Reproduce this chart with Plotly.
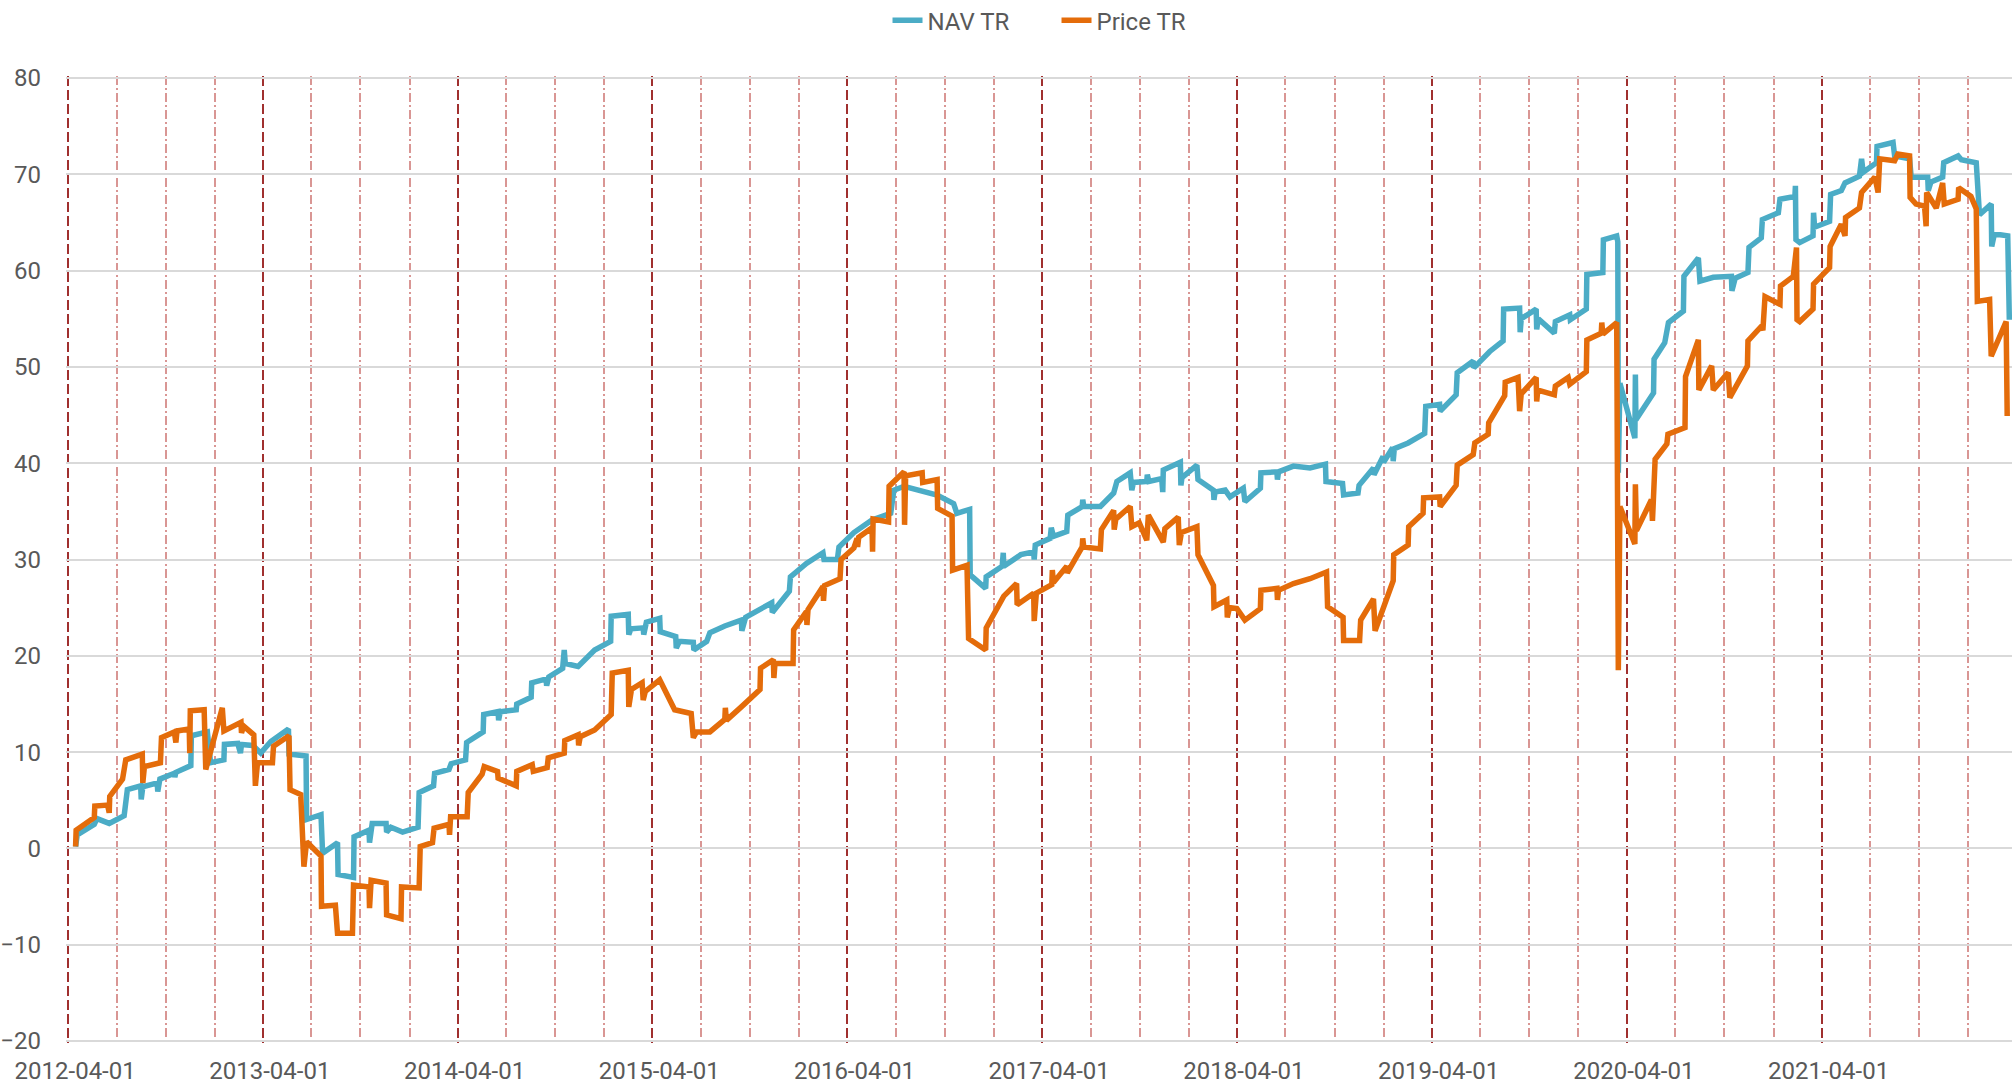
import plotly.graph_objects as go

# ---------------- data ----------------
nav_dates = (
    ["2012-04-15", "2012-04-18", "2012-05-20", "2012-05-25", "2012-06-17", "2012-06-29", "2012-07-15",
     "2012-07-21", "2012-08-15", "2012-08-16", "2012-08-19", "2012-09-15", "2012-09-16", "2012-09-20",
     "2012-10-17", "2012-10-18", "2012-10-20", "2012-11-17", "2012-11-18", "2012-12-18", "2012-12-24"]
    + ["2013-01-18", "2013-01-19", "2013-02-13", "2013-02-18", "2013-02-20", "2013-03-13", "2013-03-28",
       "2013-04-16", "2013-05-19", "2013-05-20", "2013-06-21", "2013-06-22", "2013-07-19", "2013-07-22",
       "2013-08-19", "2013-08-20", "2013-09-18", "2013-09-19", "2013-10-17", "2013-10-18", "2013-10-23",
       "2013-11-18", "2013-11-19", "2013-11-27", "2013-12-19"]
    + ["2014-01-17", "2014-01-19", "2014-02-15", "2014-02-17", "2014-03-16", "2014-03-20", "2014-04-16",
       "2014-04-18", "2014-05-19", "2014-05-20", "2014-06-16", "2014-06-17", "2014-06-20", "2014-07-20",
       "2014-07-21", "2014-08-17", "2014-08-18", "2014-09-14", "2014-09-15", "2014-09-19", "2014-10-15",
       "2014-10-18", "2014-10-20", "2014-11-13", "2014-12-14"]
    + ["2015-01-13", "2015-01-14", "2015-02-15", "2015-02-16", "2015-02-20", "2015-03-15", "2015-03-16",
       "2015-03-21", "2015-04-15", "2015-04-16", "2015-05-15", "2015-05-16", "2015-05-22", "2015-06-17",
       "2015-06-18", "2015-07-12", "2015-07-18", "2015-08-15", "2015-09-15", "2015-09-16", "2015-09-23",
       "2015-10-20", "2015-11-11", "2015-11-12", "2015-12-14", "2015-12-16"]
    + ["2016-01-15", "2016-02-15", "2016-02-17", "2016-03-13", "2016-03-16", "2016-04-13", "2016-05-17",
       "2016-06-21", "2016-06-27", "2016-07-16", "2016-08-18", "2016-09-16", "2016-10-17", "2016-10-23",
       "2016-11-16", "2016-11-17", "2016-12-16", "2016-12-17"]
    + ["2017-01-16", "2017-01-18", "2017-01-19", "2017-02-20", "2017-03-16", "2017-03-17", "2017-03-19",
       "2017-04-16", "2017-04-18", "2017-04-22", "2017-05-17", "2017-05-19", "2017-06-15", "2017-06-16",
       "2017-06-18", "2017-07-19", "2017-08-13", "2017-08-19", "2017-09-13", "2017-09-16", "2017-09-19",
       "2017-10-14", "2017-10-15", "2017-10-18", "2017-11-11", "2017-11-13", "2017-11-14", "2017-12-16",
       "2017-12-17", "2017-12-19"]
    + ["2018-01-16", "2018-01-18", "2018-02-16", "2018-02-17", "2018-02-19", "2018-03-10", "2018-03-19",
       "2018-04-13", "2018-04-16", "2018-05-15", "2018-05-16", "2018-06-15", "2018-06-16", "2018-06-18",
       "2018-07-16", "2018-08-16", "2018-09-14", "2018-09-15", "2018-10-16", "2018-10-18", "2018-11-14",
       "2018-11-16", "2018-12-13", "2018-12-14", "2018-12-31"]
    + ["2019-01-01", "2019-01-18", "2019-01-19", "2019-01-21", "2019-02-16", "2019-03-19", "2019-03-21",
       "2019-04-16", "2019-04-17", "2019-05-17", "2019-05-19", "2019-06-18", "2019-06-19", "2019-07-19",
       "2019-08-13", "2019-08-14", "2019-09-13", "2019-09-14", "2019-09-16", "2019-10-14", "2019-10-15",
       "2019-10-18", "2019-11-17", "2019-11-19", "2019-12-16", "2019-12-17"]
    + ["2020-01-16", "2020-01-17", "2020-02-16", "2020-02-17", "2020-03-13", "2020-03-15", "2020-03-16",
       "2020-03-19", "2020-04-16", "2020-04-17", "2020-04-18", "2020-05-21", "2020-05-22", "2020-06-11",
       "2020-06-18", "2020-07-16", "2020-07-17", "2020-08-13", "2020-08-16", "2020-09-10", "2020-10-14",
       "2020-10-15", "2020-10-21", "2020-11-14", "2020-11-16", "2020-12-09", "2020-12-11"]
    + ["2021-01-10", "2021-01-13", "2021-02-10", "2021-02-11", "2021-02-12", "2021-02-19", "2021-03-16",
       "2021-03-17", "2021-03-19", "2021-04-16", "2021-04-18", "2021-05-08", "2021-05-15", "2021-06-11",
       "2021-06-15", "2021-06-18", "2021-07-13", "2021-07-14", "2021-08-13", "2021-08-16", "2021-09-13",
       "2021-09-16", "2021-10-17", "2021-10-18", "2021-10-23", "2021-11-14", "2021-11-16", "2021-12-13",
       "2021-12-19"]
    + ["2022-01-16", "2022-01-22", "2022-02-13", "2022-02-14", "2022-02-19", "2022-03-16", "2022-03-19"]
)
nav_values = (
    [0.2, 1.4, 2.5, 3.1, 2.6, 3.0, 3.4, 6.1, 6.5, 5.1, 6.4, 6.8, 5.9, 7.2, 7.8, 7.4, 7.9, 8.6, 11.7, 12.1, 8.9]
    + [9.2, 10.8, 10.9, 9.9, 10.8, 10.7, 9.9, 11.1, 12.4, 9.8, 9.6, 3.0, 3.5, -0.5, 0.6, -2.7, -3.0, 1.2,
       1.9, 0.6, 2.6, 2.6, 1.7, 2.2, 1.7]
    + [2.2, 5.8, 6.5, 7.8, 8.2, 8.8, 9.2, 11.0, 12.1, 13.9, 14.2, 13.3, 14.2, 14.4, 15.0, 15.7, 17.2, 17.6,
       16.9, 17.8, 18.7, 20.6, 19.2, 18.9, 20.6]
    + [21.5, 24.1, 24.3, 22.2, 22.8, 22.9, 22.2, 23.5, 23.9, 22.5, 22.0, 20.8, 21.5, 21.4, 20.6, 21.5, 22.4,
       23.1, 23.7, 22.6, 24.0, 24.8, 25.5, 24.5, 26.7, 28.2]
    + [29.6, 30.7, 30.0, 30.0, 31.3, 32.8, 34.1, 34.8, 37.2, 37.6, 37.1, 36.7, 35.8, 34.8, 35.2, 28.4, 27.0, 28.2]
    + [29.3, 30.7, 29.3, 30.5, 30.8, 30.0, 31.5, 32.2, 33.3, 32.4, 32.9, 34.6, 35.5, 36.2, 35.5, 35.5, 36.9,
       38.1, 39.0, 37.2, 38.0, 38.1, 38.8, 38.1, 38.4, 37.0, 39.3, 40.1, 37.7, 38.5]
    + [39.8, 38.3, 37.2, 36.2, 37.0, 37.2, 36.5, 37.4, 36.0, 37.4, 39.0, 39.1, 38.3, 39.1, 39.7, 39.5, 39.9,
       38.1, 37.9, 36.7, 36.9, 37.7, 39.5, 38.8, 40.7]
    + [40.1, 41.6, 40.2, 41.5, 42.1, 43.1, 45.9, 46.1, 45.4, 47.1, 49.4, 50.6, 49.9, 51.6, 52.7, 56.0, 56.1,
       53.6, 55.0, 56.0, 53.9, 55.0, 53.5, 54.7, 55.4, 54.9]
    + [56.0, 59.6, 59.8, 63.2, 63.6, 63.0, 39.0, 48.3, 42.6, 49.2, 44.5, 47.3, 50.8, 52.5, 54.6, 55.8, 59.4,
       61.3, 58.9, 59.3, 59.4, 57.9, 59.2, 59.8, 62.4, 63.4, 65.3]
    + [66.0, 67.4, 67.7, 68.8, 63.2, 62.9, 63.6, 66.0, 64.5, 65.1, 67.9, 68.3, 69.1, 69.8, 71.6, 70.2, 71.2,
       72.9, 73.3, 71.9, 71.6, 69.7, 69.7, 68.3, 69.2, 69.7, 71.2, 71.9, 71.5]
    + [71.2, 65.8, 66.9, 62.5, 63.8, 63.6, 54.9]
)

price_dates = (
    ["2012-04-15", "2012-04-16", "2012-05-20", "2012-05-21", "2012-06-14", "2012-06-17", "2012-06-18",
     "2012-07-12", "2012-07-18", "2012-08-18", "2012-08-19", "2012-08-22", "2012-09-21", "2012-09-23",
     "2012-10-17", "2012-10-20", "2012-10-22", "2012-11-14", "2012-11-15", "2012-11-16", "2012-12-12",
     "2012-12-15"]
    + ["2013-01-15", "2013-01-18", "2013-02-19", "2013-02-20", "2013-02-24", "2013-03-15", "2013-03-18",
       "2013-03-22", "2013-04-19", "2013-04-21", "2013-05-20", "2013-05-22", "2013-06-11", "2013-06-17",
       "2013-06-22", "2013-07-19", "2013-07-20", "2013-08-15", "2013-08-19", "2013-09-16", "2013-09-18",
       "2013-10-17", "2013-10-18", "2013-10-21", "2013-11-18", "2013-11-19", "2013-12-16", "2013-12-17"]
    + ["2014-01-19", "2014-01-21", "2014-02-13", "2014-02-16", "2014-03-16", "2014-03-17", "2014-03-19",
       "2014-04-19", "2014-04-21", "2014-05-17", "2014-05-21", "2014-06-15", "2014-06-16", "2014-07-20",
       "2014-07-21", "2014-08-19", "2014-08-21", "2014-09-16", "2014-09-18", "2014-10-18", "2014-10-19",
       "2014-11-13", "2014-11-14", "2014-11-17", "2014-12-14"]
    + ["2015-01-14", "2015-01-16", "2015-02-15", "2015-02-16", "2015-02-21", "2015-03-13", "2015-03-15",
       "2015-03-19", "2015-04-15", "2015-05-13", "2015-06-13", "2015-06-17", "2015-06-23", "2015-07-18",
       "2015-08-15", "2015-08-16", "2015-08-18", "2015-09-15", "2015-10-20", "2015-10-21", "2015-11-14",
       "2015-11-15", "2015-11-17", "2015-12-21", "2015-12-22"]
    + ["2016-01-15", "2016-01-16", "2016-01-18", "2016-02-15", "2016-02-16", "2016-02-18", "2016-03-18",
       "2016-03-20", "2016-04-13", "2016-04-19", "2016-04-20", "2016-04-22", "2016-05-17", "2016-05-18",
       "2016-05-19", "2016-06-17", "2016-06-18", "2016-07-16", "2016-07-17", "2016-07-19", "2016-08-19",
       "2016-08-20", "2016-09-16", "2016-09-17", "2016-10-14", "2016-10-15", "2016-11-11", "2016-11-14",
       "2016-12-16", "2016-12-17"]
    + ["2017-01-19", "2017-02-12", "2017-02-13", "2017-03-16", "2017-03-17", "2017-03-21", "2017-04-19",
       "2017-04-20", "2017-04-22", "2017-05-17", "2017-05-18", "2017-06-15", "2017-06-16", "2017-06-18",
       "2017-07-19", "2017-07-21", "2017-08-13", "2017-08-14", "2017-08-17", "2017-09-13", "2017-09-16",
       "2017-09-30", "2017-10-14", "2017-10-17", "2017-11-14", "2017-11-17", "2017-12-12", "2017-12-14",
       "2017-12-18"]
    + ["2018-01-16", "2018-01-18", "2018-02-16", "2018-02-17", "2018-03-13", "2018-03-14", "2018-03-18",
       "2018-04-01", "2018-04-16", "2018-05-15", "2018-05-16", "2018-06-15", "2018-06-16", "2018-06-18",
       "2018-07-16", "2018-08-16", "2018-09-16", "2018-09-18", "2018-10-17", "2018-10-18", "2018-11-17",
       "2018-11-19", "2018-12-13", "2018-12-16"]
    + ["2019-01-19", "2019-01-20", "2019-02-16", "2019-02-17", "2019-03-16", "2019-03-17", "2019-04-16",
       "2019-04-17", "2019-05-17", "2019-05-19", "2019-06-18", "2019-06-21", "2019-07-16", "2019-07-17",
       "2019-08-16", "2019-08-17", "2019-09-10", "2019-09-13", "2019-09-16", "2019-10-14", "2019-10-15",
       "2019-10-17", "2019-11-17", "2019-11-19", "2019-12-13", "2019-12-16"]
    + ["2020-01-16", "2020-01-17", "2020-02-13", "2020-02-14", "2020-02-16", "2020-03-13", "2020-03-16",
       "2020-03-19", "2020-04-16", "2020-04-17", "2020-04-19", "2020-05-17", "2020-05-19", "2020-05-22",
       "2020-05-24", "2020-06-15", "2020-06-17", "2020-07-19", "2020-07-20", "2020-08-13", "2020-08-14",
       "2020-09-07", "2020-09-10", "2020-10-08", "2020-10-11", "2020-11-13", "2020-11-14", "2020-12-09",
       "2020-12-12", "2020-12-16"]
    + ["2021-01-13", "2021-01-14", "2021-02-07", "2021-02-13", "2021-02-14", "2021-02-19", "2021-03-16",
       "2021-03-17", "2021-04-16", "2021-04-17", "2021-05-08", "2021-05-15", "2021-05-16", "2021-06-11",
       "2021-06-15", "2021-07-10", "2021-07-16", "2021-07-19", "2021-08-16", "2021-08-22", "2021-09-13",
       "2021-09-14", "2021-09-25", "2021-10-11", "2021-10-14", "2021-10-15", "2021-11-02", "2021-11-14",
       "2021-11-17", "2021-12-13", "2021-12-14"]
    + ["2022-01-06", "2022-01-16", "2022-01-18", "2022-02-10", "2022-02-13", "2022-03-13", "2022-03-15"]
)
price_values = (
    [0.2, 1.9, 3.2, 4.4, 4.5, 3.7, 5.4, 7.2, 9.2, 9.8, 6.8, 8.5, 8.9, 11.5, 12.1, 11.0, 12.2, 12.4, 9.9,
     14.3, 14.4, 8.2]
    + [14.6, 12.2, 13.1, 12.0, 12.7, 11.8, 6.5, 8.9, 8.9, 10.6, 11.7, 6.1, 5.6, -1.9, 0.7, -0.8, -6.0, -5.9,
       -8.8, -8.8, -3.8, -4.0, -6.2, -3.3, -3.6, -6.9, -7.3, -4.0]
    + [-4.1, 0.2, 0.6, 2.1, 2.5, 1.4, 3.3, 3.3, 5.8, 7.7, 8.5, 8.0, 7.3, 6.5, 8.0, 8.7, 8.0, 8.4, 9.4, 9.9,
       11.2, 11.8, 10.7, 11.6, 12.3]
    + [13.9, 18.2, 18.5, 14.7, 16.5, 17.2, 15.4, 16.3, 17.5, 14.4, 14.0, 11.5, 12.1, 12.1, 13.4, 14.6, 13.3,
       14.7, 16.5, 18.7, 19.6, 17.7, 19.2, 19.2, 22.7]
    + [24.6, 23.2, 24.8, 27.2, 25.7, 27.3, 28.0, 30.0, 31.2, 32.2, 31.3, 32.3, 33.3, 30.8, 34.2, 33.9, 37.6,
       39.1, 33.6, 38.7, 39.0, 38.0, 38.3, 35.3, 34.5, 28.9, 29.4, 21.8, 20.6, 22.9]
    + [26.2, 27.5, 25.3, 26.5, 23.6, 26.5, 27.4, 28.9, 27.6, 29.3, 28.6, 31.3, 32.2, 31.3, 31.1, 33.1, 35.1,
       33.1, 34.2, 35.5, 33.4, 33.8, 32.0, 34.6, 31.8, 33.2, 34.4, 31.5, 32.8]
    + [33.4, 30.5, 27.3, 25.1, 25.8, 24.0, 25.0, 24.9, 23.7, 24.9, 26.8, 27.0, 25.8, 26.8, 27.5, 28.0, 28.7,
       25.1, 24.0, 21.6, 21.6, 23.7, 25.9, 22.6]
    + [27.8, 30.5, 31.5, 33.4, 34.8, 36.4, 36.5, 35.5, 37.7, 39.8, 40.9, 42.1, 43.0, 44.2, 47.0, 48.4, 48.9,
       45.4, 47.2, 48.9, 46.4, 47.6, 47.1, 48.0, 48.9, 48.2]
    + [49.5, 52.8, 53.5, 54.6, 53.4, 54.6, 18.5, 35.5, 31.6, 37.8, 33.0, 36.2, 34.0, 38.3, 40.4, 42.0, 43.0,
       43.7, 49.0, 52.8, 47.6, 50.1, 47.6, 49.4, 46.8, 50.1, 52.7, 54.2, 53.8, 57.3]
    + [56.5, 58.4, 59.4, 62.4, 54.9, 54.7, 56.0, 58.6, 60.3, 62.5, 64.8, 63.6, 65.5, 66.5, 68.1, 69.7, 68.1,
       71.6, 71.4, 72.1, 71.9, 67.6, 66.9, 66.7, 64.6, 68.1, 66.5, 69.1, 66.9, 67.4, 68.6]
    + [67.7, 66.4, 56.8, 57.0, 51.1, 54.7, 44.9]
)

series_names = ["NAV TR", "Price TR"]
series_colors = ["#4BACC6", "#E46C0A"]

tick_start = "2012-04-01"
x_start = "2012-03-28"   # a few days of slack so the first gridline is drawn
x_end = "2022-03-24"
y_min, y_max, y_step = -20, 80, 10
y_pad = 0.2

# ---------------- figure ----------------
font_family = "Roboto, 'Open Sans', sans-serif"
text_font = dict(family=font_family, size=24, color="#595959")

fig = go.Figure()
fig.add_trace(go.Scatter(x=nav_dates, y=nav_values, mode="lines", name=series_names[0],
                         line=dict(color=series_colors[0], width=5.5)))
fig.add_trace(go.Scatter(x=price_dates, y=price_values, mode="lines", name=series_names[1],
                         line=dict(color=series_colors[1], width=5.5)))

fig.update_layout(
    width=2012, height=1088,
    margin=dict(l=66, r=0, t=76, b=45, pad=0, autoexpand=False),
    paper_bgcolor="white", plot_bgcolor="white",
    font=text_font,
    showlegend=True,
    legend=dict(orientation="h", x=0.509, xanchor="center", yref="container", y=0.981,
                yanchor="middle", font=dict(family=font_family, size=24, color="#595959"),
                itemwidth=30, entrywidth=124, entrywidthmode="pixels", bgcolor="rgba(0,0,0,0)"),
    xaxis=dict(
        type="date", range=[x_start, x_end], tickformat="%Y-%m-%d", dtick="M12", tick0=tick_start,
        showgrid=True, gridcolor="#A0302F", gridwidth=2, griddash="10px,4px",
        minor=dict(dtick="M3", tick0=tick_start, showgrid=True, gridcolor="#D99694", gridwidth=2,
                   griddash="9px,3px,2px,3px"),
        ticks="", showline=False, zeroline=False, automargin=False,
        tickfont=dict(family=font_family, size=24, color="#595959"),
        ticklabelstandoff=11, ticklabelshift=7,
    ),
    yaxis=dict(
        range=[y_min - y_pad, y_max + y_pad], dtick=y_step, tick0=0, showgrid=True,
        gridcolor="#D9D9D9", gridwidth=2, zeroline=False, showline=False, ticks="", automargin=False,
        tickfont=text_font, ticklabelstandoff=24,
    ),
)

fig.write_html("out.html", config={"displayModeBar": False},
               post_script="document.body.style.margin='0px';document.body.style.overflow='hidden';")
